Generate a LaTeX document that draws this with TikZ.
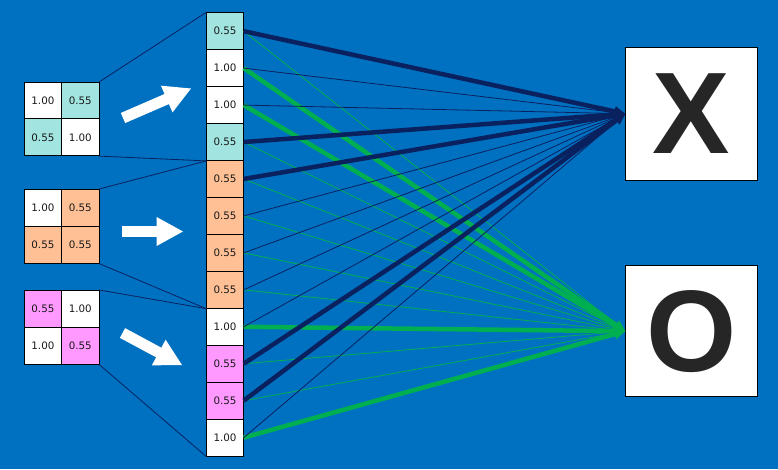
\documentclass[tikz,border=0pt]{standalone}
\usepackage{fontspec}
\setmainfont{DejaVu Sans}
\newfontfamily\bigfont{Liberation Sans}
\usetikzlibrary{arrows.meta}
\definecolor{bg}{HTML}{0070C0}
\definecolor{cy}{HTML}{A2E4E0}
\definecolor{orng}{HTML}{FFC096}
\definecolor{mag}{HTML}{FF99FF}
\definecolor{navy}{HTML}{0A2160}
\definecolor{grn}{HTML}{00B050}
\definecolor{letter}{HTML}{262626}
\begin{document}
\begin{tikzpicture}[x=1pt,y=-1pt,
  cellbox/.style={draw=black, line width=0.8pt, minimum width=36.6pt, minimum height=36.95pt,
    inner sep=0pt, font=\fontsize{10.3}{11}\selectfont, text=black!90},
  mcell/.style={cellbox, minimum width=37.2pt, minimum height=36.85pt},
  outbox/.style={draw=black, line width=0.8pt, fill=white, minimum width=131.6pt, inner sep=0pt,
    font=\bigfont\bfseries\fontsize{116}{116}\selectfont, text=letter},
  mline/.style={navy, line width=0.8pt},
  whitearrow/.style={white, line width=11pt, -{Triangle[length=27pt,width=27pt]}},
  gthin/.style={grn, line width=0.8pt, -{Triangle[length=7pt,width=5pt]}},
  gthick/.style={grn, line width=4.5pt, -{Triangle[length=11pt,width=10pt]}},
  nthin/.style={navy, line width=0.8pt, -{Triangle[length=7pt,width=5pt]}},
  nthick/.style={navy, line width=4.5pt, -{Triangle[length=11pt,width=10pt]}}]
\fill[bg] (0,0) rectangle (778,469);
\useasboundingbox (0,0) rectangle (778,469);

% column of cells
\foreach \i/\v/\c in {1/0.55/cy, 2/1.00/white, 3/1.00/white, 4/0.55/cy,
  5/0.55/orng, 6/0.55/orng, 7/0.55/orng, 8/0.55/orng,
  9/1.00/white, 10/0.55/mag, 11/0.55/mag, 12/1.00/white}
  \node[cellbox, fill=\c] (c\i) at (225, {12.7+36.95*(\i-0.5)}) {\v};

% left matrices
\node[mcell, fill=white] (m1a) at (42.9,100.7) {1.00};
\node[mcell, fill=cy] (m1b) at (80.3,100.7) {0.55};
\node[mcell, fill=cy] (m1c) at (42.9,137.3) {0.55};
\node[mcell, fill=white] (m1d) at (80.3,137.3) {1.00};

\node[mcell, fill=white] (m2a) at (42.9,207.8) {1.00};
\node[mcell, fill=orng] (m2b) at (80.3,207.8) {0.55};
\node[mcell, fill=orng] (m2c) at (42.9,244.8) {0.55};
\node[mcell, fill=orng] (m2d) at (80.3,244.8) {0.55};

\node[mcell, fill=mag] (m3a) at (42.9,308.8) {0.55};
\node[mcell, fill=white] (m3b) at (80.3,308.8) {1.00};
\node[mcell, fill=white] (m3c) at (42.9,345.8) {1.00};
\node[mcell, fill=mag] (m3d) at (80.3,345.8) {0.55};

% matrix to column lines
\draw[mline] (m1b.north east) -- (c1.north west);
\draw[mline] (m1d.south east) -- (c4.south west);
\draw[mline] (m2b.north east) -- (c4.south west);
\draw[mline] (m2d.south east) -- (c8.south west);
\draw[mline] (m3b.north east) -- (c8.south west);
\draw[mline] (m3d.south east) -- (c12.south west);

% white arrows
\coordinate (a1s) at (123,118);
\coordinate (a1e) at (191.5,88.3);
\coordinate (a2s) at (121.7,231.5);
\coordinate (a2e) at (183.5,231.5);
\coordinate (a3s) at (122.5,333);
\coordinate (a3e) at (182.5,365.3);
\draw[whitearrow] (a1s) -- (a1e);
\draw[whitearrow] (a2s) -- (a2e);
\draw[whitearrow] (a3s) -- (a3e);

% outputs
\node[outbox, minimum height=132.7pt] (X) at (691.5,113.7) {X};
\node[outbox, minimum height=131pt] (O) at (691.5,331.2) {O};

% connectors
\foreach \i in {1,4,5,6,7,8,10,11} \draw[gthin] (c\i.east) -- (O.west);
\foreach \i in {2,3,9,12} \draw[gthick] (c\i.east) -- (O.west);
\foreach \i in {2,3,6,7,8,9,12} \draw[nthin] (c\i.east) -- (X.west);
\foreach \i in {1,4,5,10,11} \draw[nthick] (c\i.east) -- (X.west);
\end{tikzpicture}
\end{document}
